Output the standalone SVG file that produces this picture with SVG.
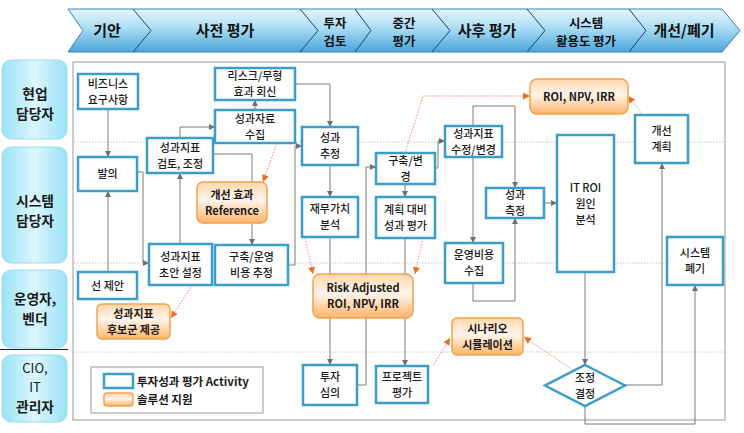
<svg xmlns="http://www.w3.org/2000/svg" width="744" height="433" viewBox="0 0 744 433">
<defs>
<linearGradient id="hdr" x1="0" y1="0" x2="0" y2="1">
<stop offset="0" stop-color="#e4f7fd"/><stop offset="0.45" stop-color="#a9dcf3"/><stop offset="1" stop-color="#4aa5dc"/>
</linearGradient>
<linearGradient id="lane" x1="0" y1="0" x2="1" y2="0">
<stop offset="0" stop-color="#98e2f5"/><stop offset="0.5" stop-color="#dcf7fd"/><stop offset="1" stop-color="#98e2f5"/>
</linearGradient>
<linearGradient id="org" x1="0" y1="0" x2="0" y2="1">
<stop offset="0" stop-color="#ffd8ae"/><stop offset="0.45" stop-color="#fff4ea"/><stop offset="1" stop-color="#ffb466"/>
</linearGradient>
<marker id="ag" viewBox="0 0 6 6" refX="6" refY="3" markerWidth="6" markerHeight="6" markerUnits="userSpaceOnUse" orient="auto"><path d="M0,0 L6,3 L0,6 z" fill="#6f6f6f"/></marker>
<marker id="ao" viewBox="0 0 6 6" refX="6" refY="3" markerWidth="7" markerHeight="7" markerUnits="userSpaceOnUse" orient="auto"><path d="M0,0 L6,3 L0,6 z" fill="#f26a1f"/></marker>
</defs>
<style>
text{font-family:"Noto Sans CJK KR","Noto Sans",sans-serif;fill:#1a1a1a;text-anchor:middle}
.h{font-size:15px;font-weight:bold;fill:#111}
.h2{font-size:12.4px;font-weight:bold;fill:#111}
.ln{font-size:13.8px;font-weight:bold}
.lr{font-size:13px;font-weight:normal}
.n{font-size:11px;font-weight:500}
.o{font-size:11px;font-weight:bold}
.lg{font-size:11.5px;font-weight:bold;text-anchor:start}
.act{fill:#fff;stroke:#3a9dca;stroke-width:2.5}
.sol{fill:url(#org);stroke:#f5a04e;stroke-width:1.5}
.lanebox{fill:url(#lane);stroke:#9adcf0;stroke-width:1}
.sep{stroke:#1f3f72;stroke-width:1;fill:none}
.dot{stroke:#c4c4c4;stroke-width:1;stroke-dasharray:1.5 1.5;fill:none}
.c{stroke:#7a7a7a;stroke-width:1;fill:none;marker-end:url(#ag)}
.d{stroke:#f28a70;stroke-width:1;stroke-dasharray:1.5 1.5;fill:none;marker-end:url(#ao)}
</style>
<rect width="744" height="433" fill="#fff"/>

<g id="header">
<path d="M68,9 L722,9 L740,30.5 L722,52 L68,52 L83,30.5 Z" fill="url(#hdr)" stroke="#3b7fc0" stroke-width="1"/>
<path class="sep" d="M133,9 L151,30.5 L133,52"/>
<path class="sep" d="M300,9 L318,30.5 L300,52"/>
<path class="sep" d="M355,9 L371,30.5 L355,52"/>
<path class="sep" d="M432,9 L450,30.5 L432,52"/>
<path class="sep" d="M527,9 L545,30.5 L527,52"/>
<path class="sep" d="M629,9 L646,30.5 L629,52"/>
<text class="h" x="107" y="36">기안</text>
<text class="h" x="225" y="36">사전 평가</text>
<text class="h2" x="335" y="27.5">투자</text><text class="h2" x="335" y="45.5">검토</text>
<text class="h2" x="404" y="27.5">중간</text><text class="h2" x="404" y="45.5">평가</text>
<text class="h" x="487" y="36">사후 평가</text>
<text class="h2" x="586" y="27.5">시스템</text><text class="h2" x="586" y="45.5">활용도 평가</text>
<text class="h" x="684" y="36">개선/폐기</text>
</g>

<g id="lanes">
<rect class="lanebox" x="2" y="60" width="65" height="79" rx="9"/>
<text class="ln" x="35" y="99">현업</text><text class="ln" x="35" y="119">담당자</text>
<rect class="lanebox" x="2" y="147" width="65" height="116" rx="9"/>
<text class="ln" x="35" y="206">시스템</text><text class="ln" x="35" y="226">담당자</text>
<rect class="lanebox" x="2" y="270" width="65" height="78" rx="9"/>
<text class="ln" x="35" y="304">운영자,</text><text class="ln" x="35" y="324">벤더</text>
<line x1="0" y1="349.5" x2="68" y2="349.5" stroke="#222" stroke-width="1.2"/>
<rect class="lanebox" x="2" y="355" width="65" height="67" rx="9"/>
<text class="lr" x="35" y="373">CIO,</text><text class="lr" x="35" y="392">IT</text><text class="ln" x="35" y="412">관리자</text>
</g>

<g id="frame">
<rect x="73" y="62" width="652" height="358" fill="none" stroke="#9a9a9a" stroke-width="1"/>
<line class="dot" x1="74" y1="142" x2="724" y2="142"/>
<line class="dot" x1="74" y1="263" x2="724" y2="263"/>
<line class="dot" x1="74" y1="352" x2="724" y2="352"/>
</g>

<g id="connectors">
<path class="c" d="M108,109 V157"/>
<path class="c" d="M108,272 V191"/>
<path class="c" d="M137,172 H143 V263 H149"/>
<path class="c" d="M180,244 V173"/>
<path class="c" d="M180,138 V127 H215"/>
<path class="c" d="M255,110 V100"/>
<path class="c" d="M295,84 H330 V127"/>
<path class="c" d="M213,154 H252 V245"/>
<path class="c" d="M288,265 H295 V146 H302"/>
<path class="c" d="M330,165 V197"/>
<path class="c" d="M330,237 V365"/>
<path class="c" d="M357,385 H366 V167 H376"/>
<path class="c" d="M405,184 V197"/>
<path class="c" d="M405,238 V366"/>
<path class="c" d="M435,168 H438 V141 H445"/>
<path class="c" d="M473,106 H515 V188"/>
<path class="c" d="M473,106 V243"/>
<path class="c" d="M473,283 V301 H515 V218"/>
<path class="c" d="M544,203 H557"/>
<path class="c" d="M585,272 V365"/>
<path class="c" d="M625,385 H662 V163"/>
<path class="c" d="M585,406 V424 H695 V285"/>
<path class="d" d="M192,285 L171,318"/>
<path class="d" d="M277,143 L263,182"/>
<path class="d" d="M305,238 L313,274"/>
<path class="d" d="M423,238 L415,274"/>
<path class="d" d="M405,153 L423,96 H530"/>
<path class="d" d="M643,115 L628,96"/>
<path class="d" d="M433,366 L450,338"/>
<path class="d" d="M570,368 L524,337"/>
</g>

<g id="n-req"><rect class="act" x="78" y="74" width="60" height="35"/><text class="n" x="108" y="87.5">비즈니스</text><text class="n" x="108" y="103.5">요구사항</text></g>
<g id="n-prop"><rect class="act" x="78" y="157" width="59" height="34"/><text class="n" x="107.5" y="178">발의</text></g>
<g id="n-sugg"><rect class="act" x="78" y="272" width="59" height="27"/><text class="n" x="107.5" y="289.5">선 제안</text></g>
<g id="n-cand"><rect class="sol" x="97" y="304" width="73" height="35" rx="5"/><text class="o" x="133.5" y="317.5">성과지표</text><text class="o" x="133.5" y="333.5">후보군 제공</text></g>
<g id="n-review"><rect class="act" x="147" y="138" width="66" height="35"/><text class="n" x="180" y="151.5">성과지표</text><text class="n" x="180" y="167.5">검토, 조정</text></g>
<g id="n-draft"><rect class="act" x="149" y="244" width="63" height="41"/><text class="n" x="180.5" y="260.5">성과지표</text><text class="n" x="180.5" y="276.5">초안 설정</text></g>
<g id="n-costest"><rect class="act" x="215" y="245" width="73" height="40"/><text class="n" x="251.5" y="261">구축/운영</text><text class="n" x="251.5" y="277">비용 추정</text></g>
<g id="n-risk"><rect class="act" x="215" y="68" width="80" height="32"/><text class="n" x="255" y="80">리스크/무형</text><text class="n" x="255" y="96">효과 회신</text></g>
<g id="n-collect"><rect class="act" x="215" y="110" width="80" height="33"/><text class="n" x="255" y="122.5">성과자료</text><text class="n" x="255" y="138.5">수집</text></g>
<g id="n-ref"><rect class="sol" x="197" y="182" width="70" height="41" rx="6"/><text class="o" x="232" y="198.5">개선 효과</text><text class="o" x="232" y="214.5">Reference</text></g>
<g id="n-est"><rect class="act" x="302" y="127" width="56" height="38"/><text class="n" x="330" y="142">성과</text><text class="n" x="330" y="158">추정</text></g>
<g id="n-fin"><rect class="act" x="302" y="197" width="56" height="40"/><text class="n" x="330" y="213">재무가치</text><text class="n" x="330" y="229">분석</text></g>
<g id="n-riskadj"><rect class="sol" x="313" y="274" width="100" height="44" rx="7"/><text class="o" x="363" y="292">Risk Adjusted</text><text class="o" x="363" y="308">ROI, NPV, IRR</text></g>
<g id="n-invest"><rect class="act" x="303" y="365" width="54" height="40"/><text class="n" x="330" y="381">투자</text><text class="n" x="330" y="397">심의</text></g>
<g id="n-proj"><rect class="act" x="376" y="366" width="52" height="37"/><text class="n" x="402" y="380.5">프로젝트</text><text class="n" x="402" y="396.5">평가</text></g>
<g id="n-build"><rect class="act" x="376" y="153" width="59" height="31"/><text class="n" x="405.5" y="164.5">구축/변</text><text class="n" x="405.5" y="180.5">경</text></g>
<g id="n-plan"><rect class="act" x="376" y="197" width="59" height="41"/><text class="n" x="405.5" y="213.5">계획 대비</text><text class="n" x="405.5" y="229.5">성과 평가</text></g>
<g id="n-roi"><rect class="sol" x="530" y="79" width="98" height="35" rx="7"/><text class="o" x="579" y="100.5">ROI, NPV, IRR</text></g>
<g id="n-kpimod"><rect class="act" x="445" y="126" width="57" height="31"/><text class="n" x="473.5" y="137.5">성과지표</text><text class="n" x="473.5" y="153.5">수정/변경</text></g>
<g id="n-measure"><rect class="act" x="486" y="188" width="58" height="30"/><text class="n" x="515" y="199">성과</text><text class="n" x="515" y="215">측정</text></g>
<g id="n-itroi"><rect class="act" x="557" y="135" width="57" height="137"/><text class="n" x="585.5" y="191.5">IT ROI</text><text class="n" x="585.5" y="207.5">원인</text><text class="n" x="585.5" y="223.5">분석</text></g>
<g id="n-improve"><rect class="act" x="635" y="115" width="53" height="48"/><text class="n" x="661.5" y="135">개선</text><text class="n" x="661.5" y="151">계획</text></g>
<g id="n-opcost"><rect class="act" x="445" y="243" width="58" height="40"/><text class="n" x="474" y="259">운영비용</text><text class="n" x="474" y="275">수집</text></g>
<g id="n-retire"><rect class="act" x="667" y="237" width="56" height="48"/><text class="n" x="695" y="257">시스템</text><text class="n" x="695" y="273">폐기</text></g>
<g id="n-scen"><rect class="sol" x="452" y="318" width="71" height="37" rx="5"/><text class="o" x="487.5" y="332.5">시나리오</text><text class="o" x="487.5" y="348.5">시뮬레이션</text></g>
<g id="n-decide"><path class="act" d="M585,365 L625,385.5 L585,406 L545,385.5 Z"/><text class="n" x="585" y="381.5">조정</text><text class="n" x="585" y="397.5">결정</text></g>

<g id="legend">
<rect x="91" y="367" width="172" height="46" fill="#fff" stroke="#9a9a9a" stroke-width="1"/>
<rect class="act" x="104" y="374" width="29" height="14" stroke-width="2"/>
<text class="lg" x="137" y="385.5">투자성과 평가 Activity</text>
<rect class="sol" x="104" y="393" width="29" height="13" rx="3"/>
<text class="lg" x="137" y="404">솔루션 지원</text>
</g>
</svg>
